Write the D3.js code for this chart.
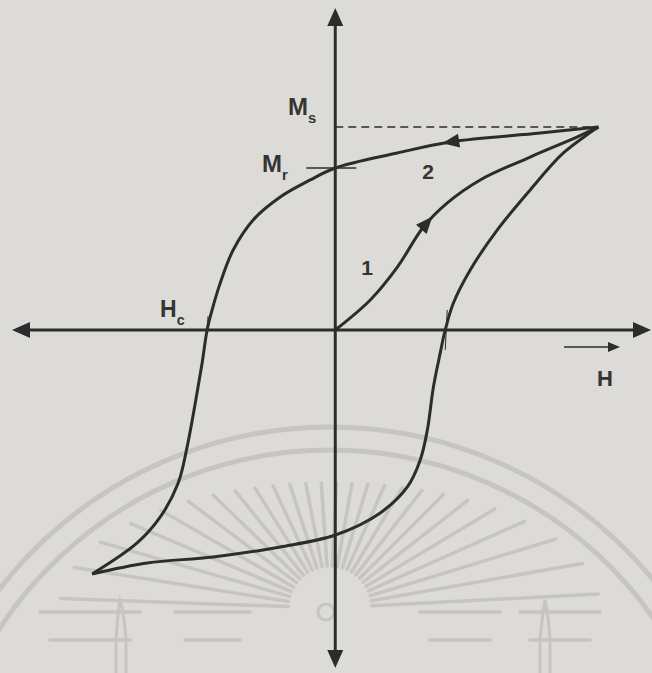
<!DOCTYPE html>
<html>
<head>
<meta charset="utf-8">
<script src="https://cdn.jsdelivr.net/npm/d3@7"></script>
<style>
  html, body { margin: 0; padding: 0; background: #dcdbd7; }
  svg { display: block; }
  text { font-family: "Liberation Sans", Arial, sans-serif; font-weight: bold; fill: #343434; }
</style>
</head>
<body>
<svg id="chart" width="652" height="673"></svg>
<script>
// Hysteresis loop: magnetisation M against field H (normalised so Hs = Ms = 1)

// descending branch, from saturation to the negative tip
const descH = [1.0, 0.779, 0.437, 0.236, 0.0, -0.095, -0.209, -0.312, -0.388, -0.437, -0.468, -0.487, -0.506, -0.532, -0.563, -0.597, -0.665, -0.753, -0.924];
const descM = [1.0, 0.970, 0.926, 0.872, 0.798, 0.739, 0.655, 0.542, 0.394, 0.232, 0.099, 0.0, -0.163, -0.360, -0.576, -0.754, -0.921, -1.049, -1.202];

// ascending branch, from the negative tip back to saturation
const ascH = [-0.924, -0.715, -0.464, -0.209, 0.0, 0.171, 0.274, 0.323, 0.350, 0.373, 0.399, 0.418, 0.449, 0.513, 0.616, 0.741, 0.867, 1.0];
const ascM = [-1.202, -1.148, -1.118, -1.069, -1.010, -0.901, -0.773, -0.640, -0.493, -0.281, -0.113, 0.0, 0.133, 0.296, 0.493, 0.690, 0.872, 1.0];

// initial magnetisation curve from the demagnetised state
const initH = [0.0, 0.133, 0.236, 0.335, 0.426, 0.551, 0.741, 0.920, 1.0];
const initM = [0.0, 0.148, 0.310, 0.507, 0.626, 0.739, 0.852, 0.951, 1.0];

// characteristic values
const Ms = 1.0;        // saturation magnetisation
const Mr = 0.798;      // remanence
const Hc = -0.487;     // coercive field
const HcPos = 0.418;   // positive coercive crossing

const W = 652, H = 673;
const svg = d3.select("#chart");

const x = d3.scaleLinear().domain([-1.24, 1.2]).range([9, 651]);
const y = d3.scaleLinear().domain([-1.665, 1.586]).range([668, 8]);

const ink = "#2c2c2c";
const faint = "#c6c5c1";

// ---- faint seal in the lower half of the sheet ----
const seal = svg.append("g").attr("fill", "none").attr("stroke", faint);
const cx = 330, cy = 845;
[418, 395].forEach(r => {
  seal.append("path")
    .attr("d", d3.arc()({innerRadius: r, outerRadius: r, startAngle: -Math.PI / 2.1, endAngle: Math.PI / 2.1}))
    .attr("transform", `translate(${cx},${cy})`)
    .attr("stroke-width", 5);
});
const sx = 330, sy = 608;
for (let a = 182; a <= 358; a += 7) {
  const t = a * Math.PI / 180;
  const ro = 1 / Math.sqrt(Math.pow(Math.cos(t) / 270, 2) + Math.pow(Math.sin(t) / 125, 2));
  seal.append("line")
    .attr("x1", sx + 42 * Math.cos(t)).attr("y1", sy + 42 * Math.sin(t))
    .attr("x2", sx + ro * Math.cos(t)).attr("y2", sy + ro * Math.sin(t))
    .attr("stroke-width", 3.5).attr("stroke-linecap", "round");
}
[612, 640].forEach((yy, i) => {
  [[40, 140], [175, 250], [420, 500], [520, 600]].forEach(([a, b]) => {
    seal.append("line").attr("x1", a + i * 10).attr("x2", b - i * 10)
      .attr("y1", yy).attr("y2", yy).attr("stroke-width", 3.5).attr("stroke-linecap", "round");
  });
});
seal.append("circle").attr("cx", 326).attr("cy", 612).attr("r", 8).attr("stroke-width", 3);
seal.append("path").attr("d", "M116,673 L116,640 Q118,610 120,600 Q124,612 126,640 L126,673")
  .attr("stroke-width", 3);
seal.append("path").attr("d", "M540,673 L540,640 Q543,610 545,600 Q548,612 550,640 L550,673")
  .attr("stroke-width", 3);

// ---- axes ----
const axes = svg.append("g");
const x0 = x(0), y0 = y(0);
axes.append("line").attr("x1", x.range()[0] + 10).attr("x2", x.range()[1] - 10)
  .attr("y1", y0).attr("y2", y0).attr("stroke", ink).attr("stroke-width", 3);
axes.append("line").attr("x1", x0).attr("x2", x0)
  .attr("y1", y.range()[1] + 10).attr("y2", y.range()[0] - 10).attr("stroke", ink).attr("stroke-width", 3);

function tri(tipX, tipY, dx, dy, len, half) {
  const bx = tipX - dx * len, by = tipY - dy * len;
  return `M${tipX},${tipY}L${bx - dy * half},${by + dx * half}L${bx + dy * half},${by - dx * half}Z`;
}
axes.append("path").attr("d", tri(x.range()[0] + 3, y0, -1, 0, 18, 8)).attr("fill", ink);
axes.append("path").attr("d", tri(x.range()[1], y0, 1, 0, 18, 8)).attr("fill", ink);
axes.append("path").attr("d", tri(x0, y.range()[1], 0, -1, 18, 8)).attr("fill", ink);
axes.append("path").attr("d", tri(x0, y.range()[0], 0, 1, 18, 8)).attr("fill", ink);

// field direction arrow under the H axis
axes.append("line").attr("x1", 564).attr("x2", 610).attr("y1", y0 + 17).attr("y2", y0 + 17)
  .attr("stroke", ink).attr("stroke-width", 1.6);
axes.append("path").attr("d", tri(620, y0 + 17, 1, 0, 12, 5)).attr("fill", ink);

// ---- saturation and remanence markers ----
svg.append("line").attr("x1", x0).attr("x2", x(1)).attr("y1", y(Ms)).attr("y2", y(Ms))
  .attr("stroke", ink).attr("stroke-width", 1.4).attr("stroke-dasharray", "8,5");
svg.append("line").attr("x1", x(-0.11)).attr("x2", x(0.08)).attr("y1", y(Mr)).attr("y2", y(Mr))
  .attr("stroke", ink).attr("stroke-width", 1.4);
// coercive field ticks
svg.append("line").attr("x1", x(Hc) + 1).attr("x2", x(Hc)).attr("y1", y0 - 14).attr("y2", y0 - 2)
  .attr("stroke", ink).attr("stroke-width", 1);
svg.append("line").attr("x1", x(HcPos) + 2).attr("x2", x(HcPos)).attr("y1", y0 - 20).attr("y2", y0 + 20)
  .attr("stroke", ink).attr("stroke-width", 1);

// ---- curves ----
const line = d3.line().x(d => x(d[0])).y(d => y(d[1])).curve(d3.curveCatmullRom.alpha(0.5));
const curves = svg.append("g").attr("fill", "none").attr("stroke", ink)
  .attr("stroke-width", 3).attr("stroke-linejoin", "miter");
const pDesc = curves.append("path").attr("d", line(descH.map((h, i) => [h, descM[i]])));
curves.append("path").attr("d", line(ascH.map((h, i) => [h, ascM[i]])));
const pInit = curves.append("path").attr("d", line(initH.map((h, i) => [h, initM[i]])));

// arrowhead along a path, centred where the path reaches field value h
function pathArrow(pathSel, h) {
  const node = pathSel.node();
  const total = node.getTotalLength();
  const tx = x(h);
  let best = 0, bestD = Infinity;
  for (let l = 0; l <= total; l += 0.5) {
    const p = node.getPointAtLength(l);
    const d = Math.abs(p.x - tx);
    if (d < bestD) { bestD = d; best = l; }
  }
  const p1 = node.getPointAtLength(Math.max(0, best - 3));
  const p2 = node.getPointAtLength(Math.min(total, best + 3));
  let dx = p2.x - p1.x, dy = p2.y - p1.y;
  const n = Math.hypot(dx, dy); dx /= n; dy /= n;
  const c = node.getPointAtLength(best);
  svg.append("path").attr("d", tri(c.x + dx * 8, c.y + dy * 8, dx, dy, 17, 7)).attr("fill", ink);
}
pathArrow(pDesc, 0.437);
pathArrow(pInit, 0.35);

// ---- labels ----
function subLabel(px, py, main, sub, size) {
  const t = svg.append("text").attr("x", px).attr("y", py).attr("font-size", size);
  t.append("tspan").text(main);
  t.append("tspan").attr("dy", 8).attr("font-size", size * 0.62).text(sub);
}
subLabel(288, y(Ms) - 12, "M", "s", 24);
subLabel(262, y(Mr) + 4, "M", "r", 24);
subLabel(160, y0 - 13, "H", "c", 23);
svg.append("text").attr("x", 367).attr("y", 275).attr("font-size", 21).attr("text-anchor", "middle").text("1");
svg.append("text").attr("x", 428).attr("y", 179).attr("font-size", 21).attr("text-anchor", "middle").text("2");
svg.append("text").attr("x", 605).attr("y", 386).attr("font-size", 22).attr("text-anchor", "middle").text("H");
</script>
</body>
</html>
